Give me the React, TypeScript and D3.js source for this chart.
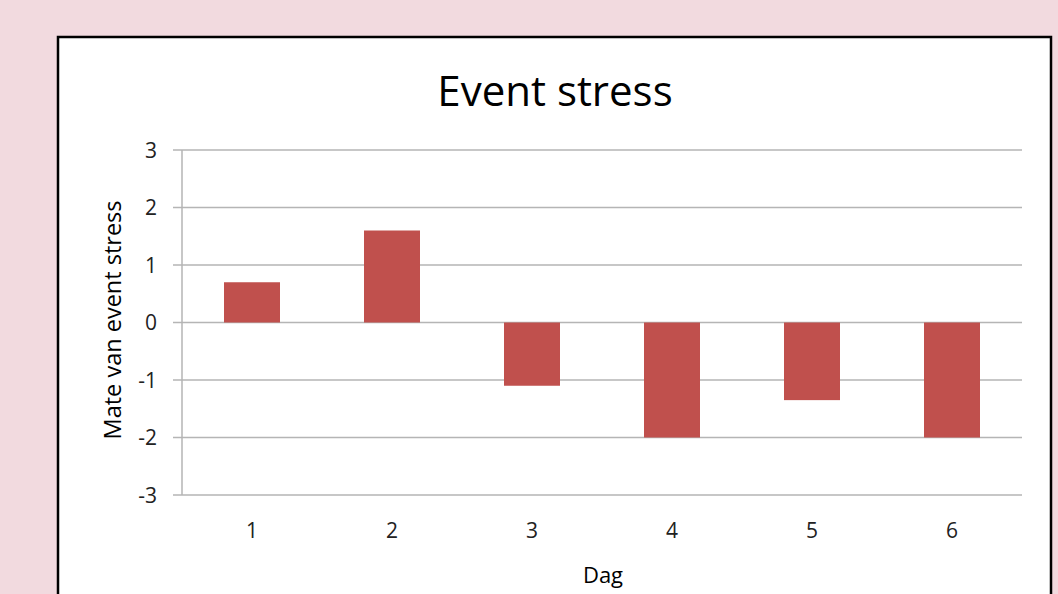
import React, { useRef, useEffect } from 'react'
import * as d3 from 'd3'

const days = ['1', '2', '3', '4', '5', '6']
const stress = [0.7, 1.6, -1.1, -2, -1.35, -2]
const yTicks = [3, 2, 1, 0, -1, -2, -3]

const W = 1058
const H = 594
const FONT = '"Open Sans", Calibri, sans-serif'

export default function App() {
  const svgRef = useRef<SVGSVGElement>(null)

  useEffect(() => {
    if (!svgRef.current) return
    const svg = d3.select(svgRef.current)
    svg.selectAll('*').remove()

    // page + chart box
    svg.append('rect').attr('width', W).attr('height', H).attr('fill', '#f2dadf')
    svg.append('rect')
      .attr('x', 58).attr('y', 37).attr('width', 993).attr('height', 600)
      .attr('fill', '#fff').attr('stroke', '#000').attr('stroke-width', 2.5)

    const plot = { left: 182, right: 1022, top: 150, bottom: 495 }

    const x = d3.scaleBand()
      .domain(days)
      .range([plot.left, plot.right])
      .paddingInner(0.6)
      .paddingOuter(0.3)

    const y = d3.scaleLinear().domain([-3, 3]).range([plot.bottom, plot.top])

    // gridlines
    svg.append('g')
      .selectAll('line')
      .data(yTicks)
      .join('line')
      .attr('x1', plot.left - 9).attr('x2', plot.right)
      .attr('y1', d => y(d)).attr('y2', d => y(d))
      .attr('stroke', '#b5b5b5').attr('stroke-width', 1.5)

    // y axis line
    svg.append('line')
      .attr('x1', plot.left).attr('x2', plot.left)
      .attr('y1', plot.top).attr('y2', plot.bottom)
      .attr('stroke', '#b5b5b5').attr('stroke-width', 1.5)

    // bars
    svg.append('g')
      .selectAll('rect')
      .data(stress)
      .join('rect')
      .attr('x', (_, i) => x(days[i])!)
      .attr('y', d => y(Math.max(0, d)))
      .attr('width', x.bandwidth())
      .attr('height', d => Math.abs(y(d) - y(0)))
      .attr('fill', '#c0504d')

    // y tick labels
    svg.append('g')
      .selectAll('text')
      .data(yTicks)
      .join('text')
      .attr('x', 157)
      .attr('y', d => y(d))
      .attr('dy', '0.36em')
      .attr('text-anchor', 'end')
      .attr('font-family', FONT)
      .attr('font-size', 21)
      .attr('fill', '#222')
      .text(d => d)

    // x tick labels
    svg.append('g')
      .selectAll('text')
      .data(days)
      .join('text')
      .attr('x', d => x(d)! + x.bandwidth() / 2)
      .attr('y', 538)
      .attr('text-anchor', 'middle')
      .attr('font-family', FONT)
      .attr('font-size', 21)
      .attr('fill', '#222')
      .text(d => d)

    // title
    svg.append('text')
      .attr('x', 555).attr('y', 106)
      .attr('text-anchor', 'middle')
      .attr('font-family', FONT)
      .attr('font-size', 42)
      .attr('fill', '#000')
      .text('Event stress')

    // axis titles
    svg.append('text')
      .attr('x', 603).attr('y', 583)
      .attr('text-anchor', 'middle')
      .attr('font-family', FONT)
      .attr('font-size', 22)
      .attr('fill', '#000')
      .text('Dag')

    svg.append('text')
      .attr('transform', 'translate(121,320) rotate(-90)')
      .attr('text-anchor', 'middle')
      .attr('font-family', FONT)
      .attr('font-size', 23.5)
      .attr('fill', '#000')
      .text('Mate van event  stress')
  }, [])

  return (
    <svg
      ref={svgRef}
      width={W}
      height={H}
      style={{ position: 'absolute', left: 0, top: 0, display: 'block' }}
    />
  )
}
